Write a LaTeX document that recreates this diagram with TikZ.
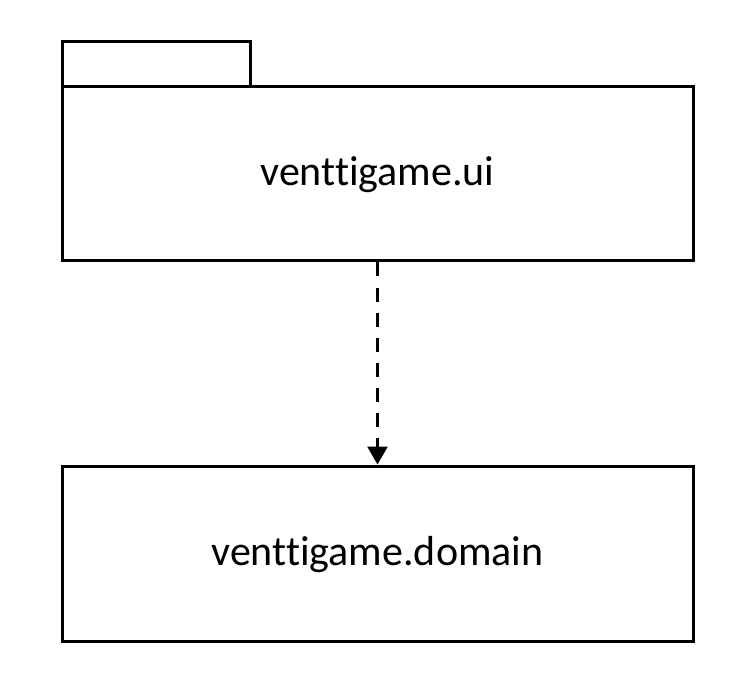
\documentclass[tikz,border=0pt]{standalone}
\usepackage{fontspec}
\setmainfont{Carlito}[RawFeature={-liga;-dlig;-calt;-clig}]
\usetikzlibrary{arrows.meta}
\begin{document}
\begin{tikzpicture}[x=1pt,y=-1pt,
  pkg/.style={draw,line width=3pt,minimum width=631pt,inner sep=0pt,text height=32pt,text depth=8pt,font=\fontsize{42}{50}\selectfont},
  tabbox/.style={draw,line width=3pt,minimum width=188pt,minimum height=45pt,inner sep=0pt},
  dep/.style={line width=3pt,dash pattern=on 14pt off 11pt,-{Triangle[width=20pt,length=18pt]}}]
\useasboundingbox (0,0) rectangle (756,690);
\node[tabbox] (tab) at (156,64.5) {};
\node[pkg,minimum height=174pt] (ui) at (377.5,174) {venttigame.ui};
\node[pkg,minimum height=175pt] (domain) at (377.5,553.5) {venttigame.domain};
\draw[dep] (ui.south) -- (domain.north);
\end{tikzpicture}
\end{document}
